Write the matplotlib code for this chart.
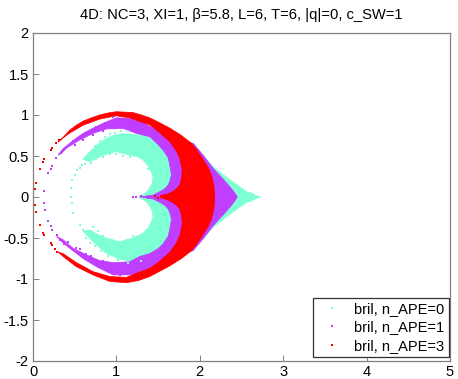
import matplotlib
matplotlib.use('Agg')
import matplotlib.pyplot as plt
from matplotlib.lines import Line2D

plt.rcParams['font.family'] = ['Liberation Sans', 'DejaVu Sans']

# filled parts of the point clouds, outlines
cyan_x = [0.60, 0.66, 0.72, 0.80, 0.88, 0.98, 1.08, 1.24, 1.40, 1.56, 1.75, 1.92, 2.04, 2.16, 2.26, 2.36, 2.46, 2.56, 2.62, 2.66, 2.73,
          2.66, 2.62, 2.56, 2.46, 2.36, 2.26, 2.16, 2.04, 1.92, 1.75, 1.56, 1.40, 1.20, 1.04, 0.88, 0.80, 0.72, 0.66, 0.60,
          0.68, 0.78, 0.88, 1.04, 1.20, 1.32, 1.38, 1.42, 1.44, 1.43, 1.38, 1.34, 1.26,
          1.34, 1.38, 1.43, 1.44, 1.42, 1.38, 1.32, 1.26, 1.16, 1.00, 0.84, 0.76, 0.68]
cyan_y = [0.46, 0.53, 0.59, 0.66, 0.715, 0.755, 0.775, 0.76, 0.74, 0.70, 0.69, 0.655, 0.51, 0.37, 0.29, 0.21, 0.14, 0.065, 0.05, 0.024, 0.0,
          -0.024, -0.05, -0.065, -0.14, -0.21, -0.29, -0.37, -0.51, -0.655, -0.69, -0.72, -0.76, -0.79, -0.76, -0.69, -0.62, -0.545, -0.48, -0.42,
          -0.40, -0.46, -0.50, -0.545, -0.50, -0.44, -0.38, -0.30, -0.24, -0.17, -0.08, -0.045, 0.0,
          0.045, 0.08, 0.17, 0.24, 0.30, 0.38, 0.45, 0.49, 0.51, 0.553, 0.51, 0.47, 0.43]

purple_x = [0.30, 0.36, 0.44, 0.52, 0.60, 0.70, 0.80, 0.90, 1.00, 1.16, 1.30, 1.48, 1.70, 1.92, 2.04, 2.16, 2.26, 2.36, 2.42, 2.45,
            2.42, 2.36, 2.26, 2.16, 2.04, 1.92, 1.70, 1.48, 1.30, 1.16, 0.96, 0.76, 0.60, 0.44, 0.36, 0.28,
            0.36, 0.48, 0.64, 0.80, 0.96, 1.16, 1.28, 1.40, 1.50, 1.56, 1.62, 1.64, 1.66, 1.64, 1.62, 1.58, 1.52, 1.44, 1.28,
            1.44, 1.52, 1.58, 1.62, 1.64, 1.66, 1.64, 1.62, 1.56, 1.50, 1.40, 1.24, 1.08, 0.88, 0.72, 0.56, 0.40, 0.34]
purple_y = [0.51, 0.59, 0.655, 0.72, 0.775, 0.83, 0.88, 0.925, 0.965, 0.96, 0.92, 0.82, 0.70, 0.655, 0.51, 0.35, 0.24, 0.126, 0.05, 0.0,
            -0.05, -0.126, -0.24, -0.35, -0.51, -0.655, -0.70, -0.82, -0.92, -0.95, -0.95, -0.85, -0.75, -0.625, -0.56, -0.48,
            -0.52, -0.625, -0.705, -0.775, -0.80, -0.79, -0.725, -0.69, -0.63, -0.57, -0.48, -0.39, -0.27, -0.19, -0.146, -0.10, -0.065, -0.024, 0.0,
            0.024, 0.065, 0.10, 0.146, 0.19, 0.27, 0.39, 0.48, 0.57, 0.64, 0.735, 0.775, 0.835, 0.83, 0.775, 0.695, 0.595, 0.53]

red_x = [0.30, 0.36, 0.44, 0.52, 0.60, 0.70, 0.80, 0.90, 1.00, 1.20, 1.30, 1.40, 1.52, 1.64, 1.78, 1.90, 1.96, 2.02, 2.10, 2.14, 2.17, 2.18,
         2.17, 2.14, 2.10, 2.02, 1.96, 1.90, 1.78, 1.64, 1.52, 1.40, 1.26, 1.12, 0.92, 0.72, 0.52, 0.36, 0.30,
         0.36, 0.52, 0.72, 0.92, 1.12, 1.24, 1.40, 1.50, 1.64, 1.72, 1.76, 1.79, 1.78, 1.76, 1.72, 1.66, 1.60, 1.56, 1.52,
         1.56, 1.60, 1.66, 1.72, 1.76, 1.78, 1.79, 1.76, 1.72, 1.64, 1.50, 1.40, 1.28, 1.16, 1.00, 0.80, 0.60, 0.44, 0.36]
red_y = [0.67, 0.725, 0.815, 0.875, 0.925, 0.965, 1.00, 1.025, 1.04, 1.03, 1.00, 0.965, 0.905, 0.84, 0.75, 0.655, 0.58, 0.49, 0.36, 0.27, 0.14, 0.0,
         -0.14, -0.27, -0.36, -0.49, -0.58, -0.655, -0.75, -0.84, -0.905, -0.97, -1.02, -1.045, -1.03, -0.95, -0.85, -0.725, -0.67,
         -0.69, -0.80, -0.91, -0.97, -0.98, -0.93, -0.87, -0.80, -0.675, -0.56, -0.47, -0.33, -0.22, -0.146, -0.10, -0.057, -0.03, -0.016, 0.0,
         0.016, 0.03, 0.057, 0.10, 0.146, 0.22, 0.33, 0.47, 0.56, 0.675, 0.80, 0.88, 0.92, 0.965, 0.99, 0.95, 0.875, 0.78, 0.72]

# isolated points and the rough edges of the clouds
cyan_pts_x = [0.456, 0.456, 0.464, 0.476, 0.472, 0.504, 0.524, 0.564, 0.584, 0.564, 0.604, 0.644, 0.683,
              0.62, 0.68, 0.74, 0.80, 0.86, 0.92, 0.98, 1.06, 1.14, 0.70, 0.76, 0.84, 0.92, 1.00, 1.08, 1.16, 1.24,
              0.72, 0.78, 0.84, 0.94, 1.04, 1.12, 1.20, 1.30, 0.64, 0.68, 0.74, 0.82, 0.90, 1.02, 1.14, 1.30, 1.38, 1.46, 1.44]
cyan_pts_y = [0.106, 0.004, -0.077, -0.20, 0.207, 0.268, 0.329, 0.35, 0.39, -0.343, -0.402, -0.443, -0.484,
              0.40, 0.50, 0.62, 0.68, 0.73, 0.77, 0.78, 0.80, 0.80, 0.41, 0.46, 0.49, 0.52, 0.53, 0.50, 0.49, 0.53,
              -0.36, -0.42, -0.47, -0.52, -0.55, -0.53, -0.48, -0.46, -0.50, -0.56, -0.60, -0.66, -0.72, -0.77, -0.80, -0.78, 0.34, 0.20, -0.20]

purple_pts_x = [0.132, 0.132, 0.14, 0.176, 0.176, 0.224, 0.212, 0.212, 0.224, 0.276, 0.292, 0.324, 0.372, 0.332,
                1.20, 1.24, 1.30, 1.38, 1.46, 0.40, 0.48, 0.56, 0.66, 0.76, 0.86, 0.96, 0.50, 0.60, 0.72, 0.84, 0.98,
                0.42, 0.52, 0.64, 0.78, 0.90, 1.04, 0.56, 0.70, 0.84, 1.00, 1.10]
purple_pts_y = [0.074, -0.077, -0.159, 0.288, -0.289, 0.378, 0.345, -0.354, -0.402, 0.472, -0.467, -0.525, -0.574, 0.533,
                0.0, 0.0, 0.01, -0.01, 0.015, 0.60, 0.68, 0.72, 0.78, 0.85, 0.90, 0.97, 0.635, 0.70, 0.755, 0.80, 0.84,
                -0.55, -0.62, -0.70, -0.80, -0.87, -0.95, -0.64, -0.72, -0.78, -0.82, -0.81]

red_pts_x = [0.03, 0.02, 0.02, 0.03, 0.08, 0.08, 0.132, 0.12, 0.12, 0.132, 0.212, 0.232, 0.212, 0.232, 0.264, 0.292, 0.272, 0.316,
             1.46, 1.50, 1.54, 1.57]
red_pts_y = [0.175, 0.094, -0.098, -0.18, 0.34, -0.34, 0.46, 0.43, -0.435, -0.46, 0.573, 0.594, -0.565, -0.59, -0.638, -0.667, 0.655, 0.695,
             0.01, -0.01, 0.01, 0.03]

labels = ['bril, n_APE=0', 'bril, n_APE=1', 'bril, n_APE=3']
cyan = '#7fffd4'
purple = '#bf3eff'
red = '#ff0000'

fig = plt.figure(figsize=(4.58, 3.79), dpi=100)
ax = fig.add_axes([33 / 458, 1 - 361 / 379, 417 / 458, 328 / 379])

ax.fill(cyan_x, cyan_y, color=cyan, lw=0.5)
ax.plot(cyan_pts_x, cyan_pts_y, 's', color=cyan, ms=1.6, mew=0)
ax.fill(purple_x, purple_y, color=purple, lw=0.5)
ax.plot(purple_pts_x, purple_pts_y, 's', color=purple, ms=1.6, mew=0)
ax.fill(red_x, red_y, color=red, lw=0.5)
ax.plot(red_pts_x, red_pts_y, 's', color=red, ms=1.6, mew=0)

ax.set_xlim(0, 5)
ax.set_ylim(-2, 2)
ax.set_xticks([0, 1, 2, 3, 4, 5])
ax.set_yticks([-2, -1.5, -1, -0.5, 0, 0.5, 1, 1.5, 2])
ax.set_yticklabels(['-2', '-1.5', '-1', '-0.5', '0', '0.5', '1', '1.5', '2'])
ax.tick_params(direction='in', length=4, width=0.7, color='#808080', labelsize=10.5, pad=3)
for s in ax.spines.values():
    s.set_color('#808080')
    s.set_linewidth(0.9)
ax.set_title('4D: NC=3, XI=1, β=5.8, L=6, T=6, |q|=0, c_SW=1', fontsize=10.6, pad=10)

handles = [Line2D([], [], ls='', marker='s', ms=1.6, mew=0, color=c) for c in (cyan, purple, red)]
leg = ax.legend(handles, labels, loc='lower right', bbox_to_anchor=(0.9975, 0.012), fontsize=10.5,
                fancybox=False, framealpha=1, edgecolor='#303030', borderpad=0.3, labelspacing=0.3, handlelength=2.0, handletextpad=0.5, borderaxespad=0)
leg.get_frame().set_linewidth(0.9)

fig.savefig('out.png', dpi=100)
